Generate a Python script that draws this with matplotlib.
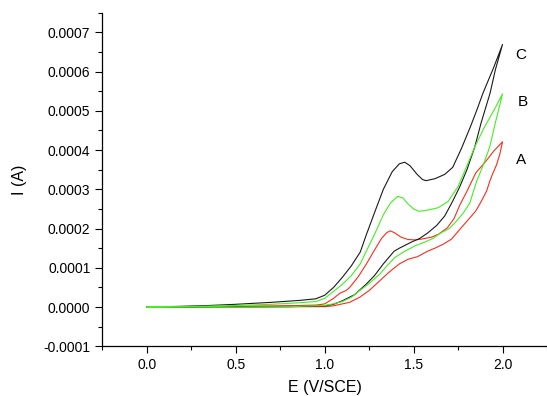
import numpy as np
import matplotlib
matplotlib.use("Agg")
import matplotlib.pyplot as plt
from matplotlib.ticker import MultipleLocator, FormatStrFormatter

plt.rcParams['font.family'] = ['Liberation Sans', 'DejaVu Sans']

# cyclic voltammograms, E in V/SCE, I in units of 1e-4 A
# curve C (black): forward branch then reverse branch
c_fwd_E = [0.0, 0.2, 0.35, 0.5, 0.7, 0.86, 0.95, 1.0, 1.05, 1.1, 1.15, 1.2, 1.235, 1.28, 1.33, 1.38,
           1.42, 1.45, 1.48, 1.52, 1.55, 1.57, 1.62, 1.675, 1.72, 1.77, 1.82, 1.854, 1.89, 1.95, 2.0]
c_fwd_I = [0.0, 0.02, 0.04, 0.07, 0.12, 0.17, 0.21, 0.3, 0.5, 0.76, 1.05, 1.4, 1.85, 2.4, 3.0, 3.45,
           3.65, 3.69, 3.6, 3.38, 3.25, 3.22, 3.27, 3.38, 3.56, 4.05, 4.6, 5.0, 5.45, 6.1, 6.69]
c_rev_E = [2.0, 1.96, 1.93, 1.88, 1.844, 1.80, 1.76, 1.72, 1.675, 1.63, 1.58, 1.535, 1.49, 1.42, 1.39,
           1.33, 1.28, 1.235, 1.17, 1.10, 1.05, 1.0, 0.8, 0.5, 0.2, 0.0]
c_rev_I = [6.69, 6.05, 5.45, 4.7, 4.08, 3.5, 3.07, 2.7, 2.32, 2.08, 1.89, 1.75, 1.66, 1.5, 1.42,
           1.1, 0.8, 0.59, 0.32, 0.16, 0.07, 0.03, 0.01, 0.005, 0.0, 0.0]

# curve B (green)
b_fwd_E = [0.0, 0.3, 0.5, 0.7, 0.86, 0.95, 1.0, 1.05, 1.1, 1.15, 1.2, 1.235, 1.28, 1.33, 1.37, 1.41,
           1.44, 1.47, 1.5, 1.53, 1.58, 1.638, 1.694, 1.75, 1.80, 1.844, 1.90, 1.95, 2.0]
b_fwd_I = [0.0, 0.02, 0.04, 0.07, 0.11, 0.14, 0.22, 0.4, 0.58, 0.8, 1.1, 1.43, 1.85, 2.35, 2.65, 2.82,
           2.78, 2.62, 2.5, 2.44, 2.47, 2.53, 2.69, 3.07, 3.6, 4.08, 4.6, 5.0, 5.43]
b_rev_E = [2.0, 1.96, 1.928, 1.89, 1.854, 1.816, 1.78, 1.741, 1.70, 1.65, 1.61, 1.56, 1.508, 1.45,
           1.394, 1.35, 1.31, 1.25, 1.197, 1.15, 1.10, 1.047, 1.0, 0.8, 0.5, 0.0]
b_rev_I = [5.43, 4.7, 4.08, 3.6, 3.2, 2.65, 2.4, 2.19, 2.0, 1.88, 1.75, 1.65, 1.56, 1.42,
           1.26, 1.05, 0.84, 0.6, 0.42, 0.25, 0.14, 0.08, 0.04, 0.01, 0.0, 0.0]

# curve A (red)
a_fwd_E = [0.0, 0.3, 0.5, 0.7, 0.86, 0.95, 1.0, 1.05, 1.085, 1.12, 1.141, 1.19, 1.235, 1.28, 1.32, 1.35,
           1.37, 1.394, 1.43, 1.469, 1.51, 1.544, 1.60, 1.638, 1.69, 1.727, 1.76, 1.80, 1.85, 1.90, 1.95, 2.0]
a_fwd_I = [0.0, 0.01, 0.02, 0.03, 0.04, 0.05, 0.08, 0.22, 0.35, 0.42, 0.5, 0.78, 1.1, 1.45, 1.75, 1.9,
           1.94, 1.89, 1.78, 1.72, 1.71, 1.73, 1.78, 1.85, 2.02, 2.25, 2.6, 2.95, 3.42, 3.68, 3.97, 4.21]
a_rev_E = [2.0, 1.985, 1.966, 1.945, 1.928, 1.91, 1.88, 1.85, 1.816, 1.76, 1.713, 1.666, 1.62, 1.582,
           1.52, 1.47, 1.42, 1.36, 1.31, 1.25, 1.197, 1.14, 1.047, 1.0, 0.0]
a_rev_I = [4.21, 3.9, 3.62, 3.4, 3.2, 2.95, 2.69, 2.45, 2.27, 1.98, 1.73, 1.6, 1.5, 1.43,
           1.28, 1.22, 1.1, 0.88, 0.67, 0.42, 0.25, 0.12, 0.03, 0.01, 0.0]

labels = ['A', 'B', 'C']
label_pos = [(2.103, 3.75), (2.114, 5.22), (2.103, 6.43)]

fig = plt.figure(figsize=(5.47, 3.96), dpi=100)
ax = fig.add_axes([0.187, 0.1255, 0.813, 0.8425])

curves = [
    (a_fwd_E + a_rev_E, a_fwd_I + a_rev_I, '#ff2a1a'),
    (c_fwd_E + c_rev_E, c_fwd_I + c_rev_I, '#1a1a1a'),
    (b_fwd_E + b_rev_E, b_fwd_I + b_rev_I, '#44ee22'),
]
for E, I, col in curves:
    ax.plot(E, np.array(I) * 1e-4, color=col, lw=0.8)

for lab, (x, y) in zip(labels, label_pos):
    ax.text(x, y * 1e-4, lab, fontsize=11, ha='center', va='center')

ax.set_xlim(-0.25, 2.25)
ax.set_ylim(-0.0001, 0.00075)
ax.xaxis.set_major_locator(MultipleLocator(0.5))
ax.xaxis.set_minor_locator(MultipleLocator(0.25))
ax.yaxis.set_major_locator(MultipleLocator(0.0001))
ax.yaxis.set_minor_locator(MultipleLocator(0.00005))
ax.xaxis.set_major_formatter(FormatStrFormatter('%.1f'))
ax.yaxis.set_major_formatter(FormatStrFormatter('%.4f'))

for s in ['top', 'right']:
    ax.spines[s].set_visible(False)
for s in ['left', 'bottom']:
    ax.spines[s].set_linewidth(0.9)

ax.tick_params(which='major', direction='out', length=5, width=0.8, labelsize=10)
ax.tick_params(which='minor', direction='out', length=3, width=0.8)

ax.set_xlabel('E (V/SCE)', fontsize=11.5, labelpad=6)
ax.set_ylabel('I (A)', fontsize=11.5, labelpad=12)

fig.savefig('out.png', dpi=100)
